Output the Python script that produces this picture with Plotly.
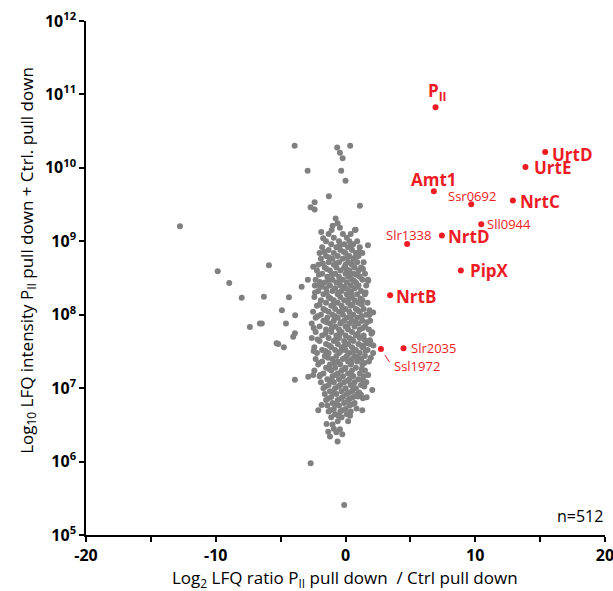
import math
import plotly.graph_objects as go

# ---------------- data ----------------
# isolated grey proteins (log2 ratio, LFQ intensity)
grey_x = [-3.92, -0.64, 0.36, -0.43, -0.22, -2.92, -0.33, 0.0, -1.28, -2.38,
          -2.69, -2.38, 1.11, -12.76, -0.76, -0.61, -0.99, -0.43, 0.78, -1.87,
          -1.72, 1.73, -9.85, -5.9, -8.96, -8.0, -6.29, -4.36, -2.49, 1.73,
          0.85, -3.38, -4.9, -3.88, -7.37, -6.6, -6.45, -4.59, 1.88, 2.13,
          1.83, -5.18, -4.75, -3.9, -2.69, -0.1, 2.06, 1.63, 1.19, 0.85,
          1.29, -0.61, -1.2, -0.25, -1.46, -0.43, -1.33, -2.1, -1.84, 2.06,
          1.63, 1.93, 1.36, 2.13, -2.87, -2.49, -5.31, -3.9, -4.03, 1.88,
          1.75, 0.96, 1.34, -2.9, -2.36, -1.97, -1.07, 0.72]
grey_y = [2.0e10, 1.9e10, 2.0e10, 1.6e10, 1.35e10, 9.1e9, 9.1e9, 6.7e9, 4.1e9, 3.4e9,
          2.9e9, 2.7e9, 3.05e9, 1.6e9, 2.05e9, 1.76e9, 1.63e9, 1.53e9, 1.44e9, 1.34e9,
          1.1e9, 8.8e8, 3.9e8, 4.7e8, 2.7e8, 1.7e8, 1.76e8, 1.73e8, 4.5e8, 3.0e8,
          3.5e8, 2.4e8, 1.15e8, 9.8e7, 6.8e7, 7.6e7, 7.6e7, 7.6e7, 1.1e8, 1.07e8,
          9.9e7, 4.0e7, 3.6e7, 1.3e7, 9.5e5, 2.57e5, 9.4e6, 7.5e6, 8.1e6, 5.3e6,
          5.0e6, 1.87e6, 2.2e6, 2.35e6, 3.25e6, 2.75e6, 2.55e6, 5.0e6, 5.9e6, 5.75e7,
          4.1e7, 4.15e7, 3.7e7, 3.0e7, 1.43e7, 1.51e7, 4.1e7, 5.6e7, 5.0e7, 4.5e7,
          4.1e7, 7.7e6, 7.3e6, 3.0e8, 2.5e8, 2.8e8, 1.43e9, 1.43e9]

# dense central cloud, read row by row (intensity level, log2 ratios on that row)
core_levels = [1.26e9, 1.12e9, 1.0e9, 9.1e8, 8.3e8, 7.6e8, 6.9e8, 6.3e8, 5.8e8, 5.2e8,
               4.8e8, 4.4e8, 4.0e8, 3.6e8, 3.3e8, 3.0e8, 2.75e8, 2.5e8, 2.3e8, 2.1e8,
               1.9e8, 1.74e8, 1.58e8, 1.45e8, 1.32e8, 1.2e8, 1.1e8, 1.0e8, 9.1e7, 8.3e7,
               7.6e7, 6.9e7, 6.3e7, 5.8e7, 5.2e7, 4.8e7, 4.4e7, 4.0e7, 3.6e7, 3.3e7,
               3.0e7, 2.75e7, 2.5e7, 2.3e7, 2.1e7, 1.9e7, 1.74e7, 1.58e7, 1.45e7, 1.32e7,
               1.2e7, 1.1e7, 1.0e7, 9.1e6, 8.3e6, 7.6e6, 6.9e6, 6.3e6, 5.8e6, 5.2e6,
               4.8e6, 4.4e6, 4.0e6, 3.55e6, 3.2e6, 2.8e6, 2.5e6]
core_rows = [
    [-1.3, -0.2, 0.4], [-0.9, 0.1], [-1.5, -0.5, 0.3, 0.9], [-1.1, -0.1, 0.6],
    [-1.8, -0.7, 0.2, 1.1], [-1.3, -0.4, 0.5], [-2.0, -0.9, 0.0, 0.8, 1.3],
    [-1.5, -0.6, 0.3, 1.0], [-1.9, -1.0, -0.2, 0.6], [-1.3, -0.5, 0.2, 0.9, 1.4],
    [-2.1, -0.9, 0.0, 0.5], [-1.6, -0.7, -0.1, 0.7, 1.2], [-2.2, -1.2, -0.4, 0.3, 1.0],
    [-1.8, -0.8, 0.0, 0.6, 1.5], [-1.4, -0.5, 0.2, 1.1], [-2.3, -1.0, -0.2, 0.5, 1.3],
    [-1.6, -0.7, 0.1, 0.8], [-2.0, -1.2, -0.4, 0.4, 1.0, 1.6], [-1.5, -0.8, 0.0, 0.7],
    [-2.1, -1.0, -0.3, 0.3, 1.2], [-1.7, -0.6, 0.1, 0.9, 1.5], [-2.4, -1.3, -0.4, 0.5],
    [-1.9, -0.9, -0.1, 0.7, 1.3], [-1.5, -0.6, 0.2, 1.0, 1.7], [-2.2, -1.1, -0.3, 0.4],
    [-1.7, -0.8, 0.0, 0.8, 1.4], [-2.5, -1.3, -0.5, 0.3, 1.1], [-1.9, -1.0, -0.2, 0.6, 1.6],
    [-2.3, -1.4, -0.6, 0.1, 0.9], [-1.7, -0.9, -0.1, 0.5, 1.3, 1.9], [-2.6, -1.2, -0.4, 0.3, 1.0],
    [-2.0, -0.8, 0.0, 0.7, 1.5], [-1.5, -0.5, 0.2, 1.1, 1.8], [-2.3, -1.1, -0.3, 0.5],
    [-1.8, -0.7, 0.0, 0.8, 1.4], [-2.6, -1.3, -0.5, 0.3, 1.1], [-2.0, -0.9, -0.1, 0.6, 1.6],
    [-1.5, -0.6, 0.2, 1.0, 1.9], [-2.4, -1.1, -0.3, 0.5, 1.3], [-1.8, -0.8, 0.0, 0.8, 1.7],
    [-2.2, -1.3, -0.5, 0.3, 1.1], [-1.6, -0.7, 0.1, 0.7, 1.5], [-2.3, -1.0, -0.2, 0.5, 1.2],
    [-1.8, -0.6, 0.2, 0.9, 1.8], [-2.1, -1.2, -0.4, 0.4, 1.3], [-1.5, -0.8, 0.0, 0.8],
    [-2.4, -1.1, -0.3, 0.5, 1.5], [-1.7, -0.6, 0.2, 1.1], [-2.0, -1.0, -0.2, 0.6, 1.4],
    [-1.4, -0.5, 0.3, 1.0], [-1.9, -0.9, -0.1, 0.7, 1.6], [-1.3, -0.4, 0.4, 1.2],
    [-1.7, -0.8, 0.0, 0.8], [-1.2, -0.3, 0.5], [-1.6, -0.7, 0.1, 0.9], [-1.1, -0.2, 0.6],
    [-1.5, -0.6, 0.2], [-1.0, -0.1, 0.7], [-1.4, -0.5, 0.3], [-0.9, 0.0],
    [-1.3, -0.4, 0.4], [-0.8, 0.1], [-1.1, -0.3], [-0.6, 0.2], [-1.0], [-0.9], [-0.7],
]
# second, interleaved reading of the dense cloud
core2_levels = [8.7e8, 7.2e8, 6.0e8, 5.0e8, 4.2e8, 3.5e8, 2.9e8, 2.4e8, 2.0e8, 1.66e8,
                1.38e8, 1.15e8, 9.5e7, 7.9e7, 6.6e7, 5.5e7, 4.6e7, 3.8e7, 3.2e7, 2.6e7,
                2.2e7, 1.82e7, 1.51e7, 1.26e7, 1.05e7, 8.7e6, 7.2e6, 6.0e6, 5.0e6, 4.2e6]
core2_rows = [
    [-0.45, 0.45], [-1.65, -0.15, 1.05], [-1.25, 0.15, 0.75], [-1.75, -0.75, 0.45],
    [-1.45, 0.05, 1.35], [-2.05, -1.05, 0.35, 0.95], [-1.35, -0.45, 0.65, 1.75],
    [-1.85, -0.15, 0.95], [-2.35, -1.45, -0.55, 0.45, 1.55], [-1.15, 0.25, 1.15],
    [-2.0, -0.95, 0.55, 1.25], [-1.55, -0.25, 0.95, 1.85], [-2.15, -0.85, 0.35, 1.25],
    [-1.45, -0.35, 0.75, 1.65], [-2.45, -1.05, 0.15, 1.35], [-1.55, -0.45, 0.95, 2.0],
    [-2.15, -0.75, 0.45, 1.45], [-1.25, -0.05, 1.25, 2.15], [-2.45, -1.55, -0.35, 0.65, 1.55],
    [-1.35, 0.0, 0.95, 1.95], [-2.05, -0.85, 0.45, 1.45], [-1.25, -0.05, 1.25],
    [-1.95, -0.75, 0.45, 1.75], [-1.05, 0.15, 1.35], [-1.55, -0.55, 0.55, 1.45],
    [-0.95, 0.25, 1.05], [-1.35, -0.35, 0.35], [-0.75, 0.45], [-1.15, -0.25], [-0.55, 0.35],
]

# highlighted proteins
hit_names = ["P<sub>II</sub>", "UrtD", "UrtE", "Amt1", "Ssr0692", "NrtC", "Sll0944",
             "NrtD", "Slr1338", "PipX", "NrtB", "Slr2035", "Ssl1972"]
hit_x = [6.94, 15.39, 13.87, 6.81, 9.69, 12.9, 10.46, 7.43, 4.75, 8.89, 3.44, 4.47, 2.73]
hit_y = [6.7e10, 1.64e10, 1.03e10, 4.8e9, 3.2e9, 3.6e9, 1.7e9, 1.2e9, 9.2e8, 4.0e8,
         1.84e8, 3.5e7, 3.4e7]

x_ticks = [-20, -15, -10, -5, 0, 5, 10, 15, 20]
x_tick_text = ["-20", "", "-10", "", "0", "", "10", "", "20"]
y_exponents = [5, 6, 7, 8, 9, 10, 11, 12]
n_proteins = 512

# ---------------- styling (not data) ----------------
GREY = "#808080"
RED = "#ed1c24"
FONT = "Open Sans"
# label layout: (bold, xanchor, xshift px, yshift px)
label_style = {
    "P<sub>II</sub>": (True, "center", 2, 16),
    "UrtD": (True, "left", 5, -2),
    "UrtE": (True, "left", 7, -1),
    "Amt1": (True, "center", 0, 12),
    "Ssr0692": (False, "center", 1, 8),
    "NrtC": (True, "left", 5, -1),
    "Sll0944": (False, "left", 4, 0),
    "NrtD": (True, "left", 4, -1),
    "Slr1338": (False, "center", 1, 9),
    "PipX": (True, "left", 7, 0),
    "NrtB": (True, "left", 4, -1),
    "Slr2035": (False, "left", 5, 0),
    "Ssl1972": (False, "left", 11, -17),
}

core_x = [x for row in core_rows for x in row] + [x for row in core2_rows for x in row]
core_y = ([lvl for lvl, row in zip(core_levels, core_rows) for _ in row]
          + [lvl for lvl, row in zip(core2_levels, core2_rows) for _ in row])

fig = go.Figure()
fig.add_trace(go.Scatter(x=core_x + grey_x, y=core_y + grey_y, mode="markers",
                         marker=dict(color=GREY, size=6, line=dict(width=0)),
                         hoverinfo="skip", showlegend=False))
fig.add_trace(go.Scatter(x=hit_x, y=hit_y, mode="markers",
                         marker=dict(color=RED, size=6, line=dict(width=0)),
                         showlegend=False))

for name, x, y in zip(hit_names, hit_x, hit_y):
    bold, xa, xs, ys = label_style[name]
    fig.add_annotation(x=x, y=math.log10(y), xref="x", yref="y",
                       text=f"<b>{name}</b>" if bold else name,
                       showarrow=False, xanchor=xa, yanchor="middle",
                       xshift=xs, yshift=ys,
                       font=dict(family=FONT, size=17 if bold else 13, color=RED))

# short leader tick between Ssl1972 and its label
fig.add_annotation(x=hit_x[-1], y=math.log10(hit_y[-1]), xref="x", yref="y",
                   text=" ", font=dict(size=1), showarrow=True, arrowhead=0,
                   arrowwidth=1, arrowcolor=RED, ax=10, ay=15, standoff=7,
                   startstandoff=0)

fig.add_annotation(xref="paper", yref="paper", x=1.0, y=0.012,
                   xanchor="right", yanchor="bottom", showarrow=False,
                   text=f"n={n_proteins}", font=dict(family=FONT, size=16, color="black"))

# axis titles
fig.add_annotation(xref="paper", yref="paper", x=0.499, y=-0.084,
                   xanchor="center", yanchor="middle", showarrow=False,
                   text="Log<sub>2</sub> LFQ ratio P<sub>II</sub> pull down  / Ctrl pull down",
                   font=dict(family=FONT, size=17, color="black"))
fig.add_annotation(xref="paper", yref="paper", x=-0.114, y=0.535,
                   xanchor="center", yanchor="middle", showarrow=False, textangle=-90,
                   text="Log<sub>10</sub> LFQ intensity P<sub>II</sub> pull down + Ctrl. pull down",
                   font=dict(family=FONT, size=17, color="black"))

fig.update_xaxes(range=[-20, 20], tickvals=x_ticks,
                 ticktext=[f"<b>{t}</b>" if t else "" for t in x_tick_text],
                 ticks="outside", ticklen=5, tickwidth=1.5, tickcolor="black",
                 showline=True, linecolor="black", linewidth=1.5,
                 showgrid=False, zeroline=False, automargin=False,
                 ticklabeloverflow="allow",
                 tickfont=dict(family=FONT, size=16, color="black"))
fig.update_yaxes(type="log", range=[5, 12],
                 tickvals=[10 ** e for e in y_exponents],
                 ticktext=[f"<b>10<sup>{e}</sup></b>" for e in y_exponents],
                 ticks="outside", ticklen=5, tickwidth=1.5, tickcolor="black",
                 showline=True, linecolor="black", linewidth=1.5,
                 showgrid=False, zeroline=False, automargin=False,
                 ticklabeloverflow="allow",
                 tickfont=dict(family=FONT, size=16, color="black"))

fig.update_layout(width=613, height=591, margin=dict(l=86, r=8, t=21, b=56),
                  plot_bgcolor="white", paper_bgcolor="white",
                  font=dict(family=FONT), showlegend=False)

fig.write_html("out.html", config={"displayModeBar": False},
               post_script="document.body.style.margin='0px';")
